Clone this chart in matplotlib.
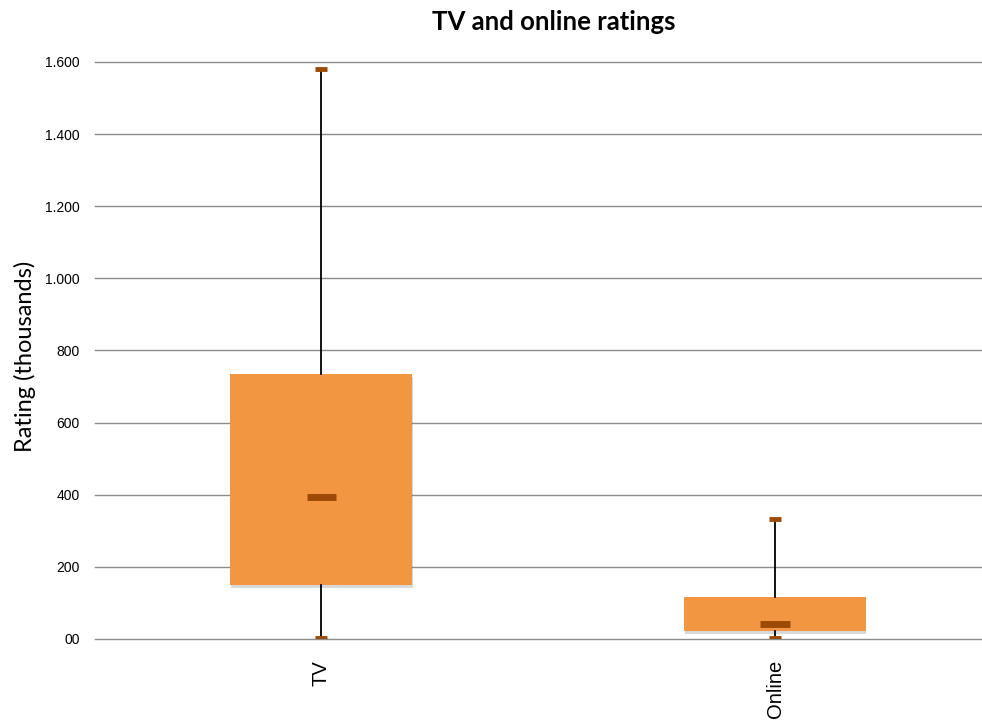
import matplotlib
matplotlib.use("Agg")
import matplotlib.pyplot as plt
import matplotlib.patheffects as pe
from matplotlib.ticker import FuncFormatter

# Summary statistics (thousands of viewers)
categories = ["TV", "Online"]
minimum = [3, 3]
q1 = [150, 22]
median = [394, 42]
q3 = [735, 116]
maximum = [1580, 333]
yticks = [0, 200, 400, 600, 800, 1000, 1200, 1400, 1600]

box_color = "#F39641"
dark_orange = "#9C4A05"

fig = plt.figure(figsize=(9.82, 7.2), dpi=100)
ax = fig.add_axes([95 / 982, 1 - 639 / 720, 1 - 95 / 982, (639 - 62) / 720])

positions = list(range(len(categories)))
stats = [
    dict(label=c, whislo=lo, q1=a, med=m, q3=b, whishi=hi, fliers=[])
    for c, lo, a, m, b, hi in zip(categories, minimum, q1, median, q3, maximum)
]
parts = ax.bxp(
    stats,
    positions=positions,
    widths=0.4,
    patch_artist=True,
    showfliers=False,
    boxprops=dict(facecolor=box_color, edgecolor="none", linewidth=0),
    whiskerprops=dict(color="black", linewidth=1.3),
    capprops=dict(color=dark_orange, linewidth=3.5, solid_capstyle="butt"),
    capwidths=0.027,
    medianprops=dict(visible=False),
    zorder=3,
)
for box in parts["boxes"]:
    box.set_path_effects([
        pe.SimplePatchShadow(offset=(0.5, -2), shadow_rgbFace="#000000", alpha=0.15),
        pe.Normal(),
    ])

# short median marks
ax.hlines(median, [p - 0.032 for p in positions], [p + 0.032 for p in positions],
          color=dark_orange, linewidth=5, zorder=4)

ax.set_xlim(-0.498, 1.456)
ax.set_ylim(0, 1600)
ax.set_yticks(yticks)


def fmt(v, _):
    v = int(round(v))
    if v == 0:
        return "00"
    if v >= 1000:
        return f"{v // 1000}.{v % 1000:03d}"
    return str(v)


ax.yaxis.set_major_formatter(FuncFormatter(fmt))
ax.grid(axis="y", color="#8c8c8c", linewidth=1.0, zorder=0)
for gl in ax.get_ygridlines():
    gl.set_clip_on(False)
ax.set_axisbelow(True)
for s in ax.spines.values():
    s.set_visible(False)
ax.tick_params(axis="y", length=0, pad=11, labelsize=10)
ax.tick_params(axis="x", length=0, pad=15, labelsize=14.5)
for lbl in ax.get_yticklabels():
    lbl.set_fontfamily("Liberation Sans")
ax.set_xticks(positions)
ax.set_xticklabels(categories, rotation=90, fontfamily="Liberation Sans", va="top")

ax.set_ylabel("Rating (thousands)", fontsize=17, fontfamily="Lato")
ax.yaxis.set_label_coords(-0.066, 0.49)
fig.text(554 / 982, 1 - 22 / 720, "TV and online ratings", ha="center", va="center",
         fontsize=18.5, fontweight="bold", fontfamily="Lato")

fig.savefig("out.png", dpi=100)
